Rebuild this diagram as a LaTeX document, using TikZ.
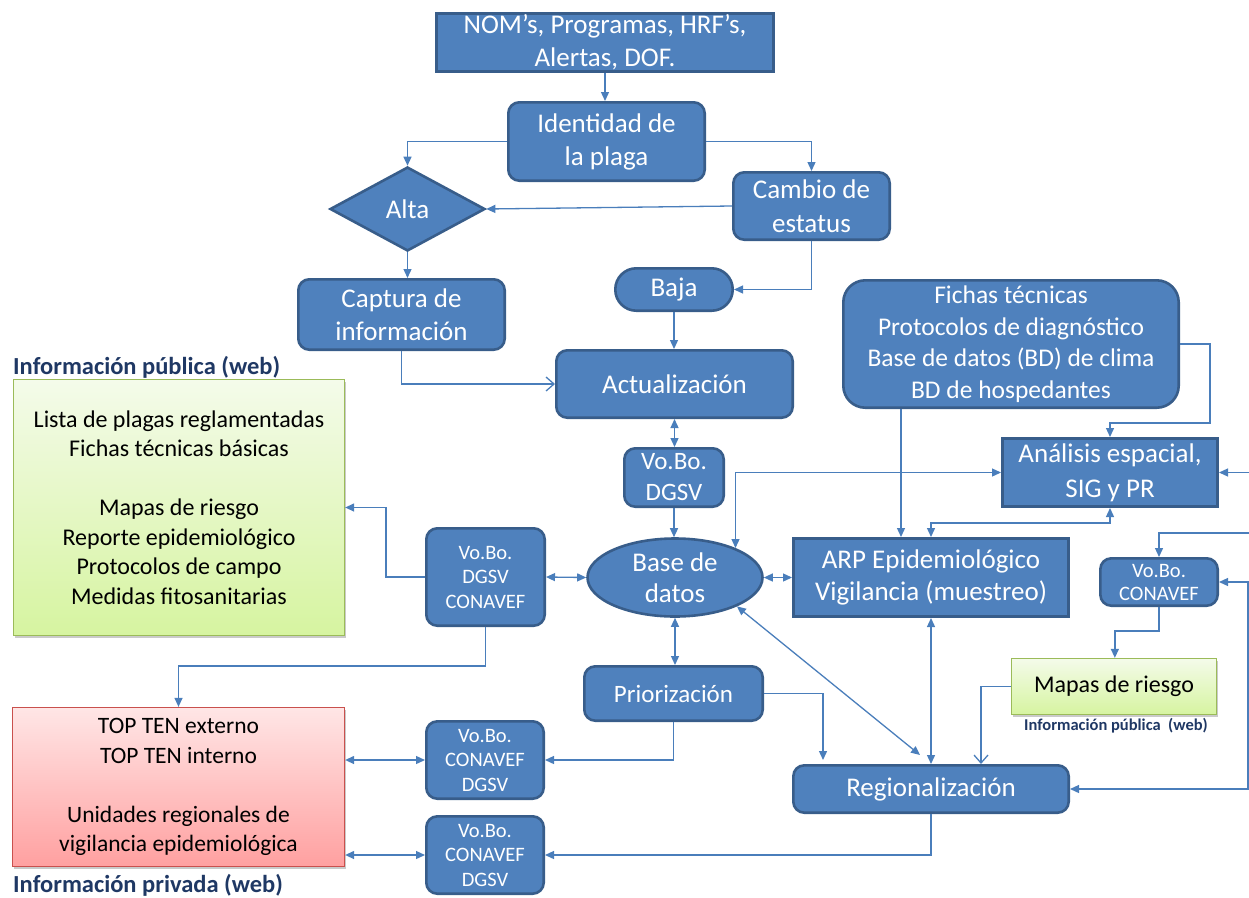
\documentclass[tikz,border=0pt]{standalone}
\usepackage{fontspec}
\setmainfont{Carlito}
\usetikzlibrary{arrows.meta,shapes.geometric,calc,shadows}
\definecolor{bfill}{HTML}{4F81BD}
\definecolor{bdraw}{HTML}{385D8A}
\definecolor{lnc}{HTML}{4A7EBB}
\definecolor{navy}{HTML}{1F3864}
\definecolor{gbor}{HTML}{9BBB59}
\definecolor{gtop}{HTML}{F4FBEA}
\definecolor{gbot}{HTML}{D6F4A0}
\definecolor{rbor}{HTML}{C9504D}
\definecolor{rtop}{HTML}{FFE6E6}
\definecolor{rbot}{HTML}{FFA0A0}
\newcommand\mkbox[7]{\node[#2, minimum width={(#5)-(#3)-2.6}, minimum height={(#6)-(#4)-2.6}] (#1) at ({((#3)+(#5))/2},{((#4)+(#6))/2}) {#7};}
\tikzset{
  bx/.style={draw=bdraw, fill=bfill, line width=2.6pt, text=white, align=center, rounded corners=11pt, inner sep=1pt},
  sq/.style={bx, rounded corners=0pt},
  conn/.style={draw=lnc, line width=1.3pt},
  arr/.style={conn, -{Triangle[length=9pt,width=8pt]}},
  darr/.style={conn, {Triangle[length=9pt,width=8pt]}-{Triangle[length=9pt,width=8pt]}},
  oarr/.style={conn, -{Straight Barb[length=8pt,width=14pt]}},
  shad/.style={drop shadow={shadow xshift=1.5pt, shadow yshift=-2.5pt, opacity=0.35, fill=black!60}},
  gbox/.style={draw=gbor, line width=0.9pt, top color=gtop, bottom color=gbot, text=black, align=center, inner sep=1pt, shad},
  rbox/.style={draw=rbor, line width=0.9pt, top color=rtop, bottom color=rbot, text=black, align=center, inner sep=1pt, shad},
  lbl/.style={text=navy, font=\bfseries\fontsize{24.5}{28}\selectfont, inner sep=0pt},
  slbl/.style={text=navy, font=\bfseries\fontsize{16.5}{19}\selectfont, inner sep=0pt},
  fbig/.style={font=\fontsize{27}{33}\selectfont},
  fvb/.style={font=\fontsize{20.5}{24.5}\selectfont},
}
\begin{document}
\begin{tikzpicture}[x=1pt,y=-1pt]
\useasboundingbox (0,0) rectangle (1249,897);
% blue process boxes
\mkbox{top}{sq,fbig}{435}{12}{775}{73}{NOM’s, Programas, HRF’s,\\Alertas, DOF.}
\mkbox{iden}{bx,fbig}{507}{101}{706}{182}{Identidad de\\la plaga}
\node[bx, diamond, rounded corners=0pt, inner sep=0pt, fbig, minimum width=155, minimum height=84] (alta) at (407.5,209) {Alta};
\mkbox{camb}{bx,font=\fontsize{27}{34}\selectfont}{732}{171}{891}{241}{Cambio de\\estatus}
\mkbox{baja}{bx,fbig,rounded corners=21pt}{614}{267}{734}{312}{Baja}
\mkbox{capt}{bx,fbig}{297}{278}{506}{351}{Captura de\\información}
\mkbox{act}{bx,fbig}{555}{349}{794}{419}{Actualización}
\mkbox{fich}{bx,font=\fontsize{25.5}{31.5}\selectfont,rounded corners=22pt}{842}{279}{1180}{409}{Fichas técnicas\\Protocolos de diagnóstico\\Base de datos (BD) de clima\\BD de hospedantes}
\mkbox{anal}{sq,font=\fontsize{27}{35}\selectfont}{1001}{437}{1219}{508}{Análisis espacial,\\SIG y PR}
\mkbox{vb1}{bx,font=\fontsize{25}{31}\selectfont}{623}{447}{725}{508}{Vo.Bo.\\DGSV}
\node[bx, ellipse, inner sep=-6pt, font=\fontsize{27}{31}\selectfont, minimum width=175, minimum height=78] (base) at (675,577.5) {Base de\\datos};
\mkbox{arp}{sq,font=\fontsize{27}{31.5}\selectfont}{792}{537}{1070}{618}{ARP Epidemiológico\\Vigilancia (muestreo)}
\mkbox{vbl}{bx,fvb}{425}{527}{546}{627}{Vo.Bo.\\DGSV\\CONAVEF}
\mkbox{vbr}{bx,font=\fontsize{20.5}{23}\selectfont}{1099}{557}{1219}{607}{Vo.Bo.\\CONAVEF}
\mkbox{prio}{bx,font=\fontsize{25}{30}\selectfont}{583}{665}{764}{722}{Priorización}
\mkbox{reg}{bx,fbig}{792}{764}{1070}{814}{Regionalización}
\mkbox{vb2}{bx,fvb}{425}{720}{545}{800}{Vo.Bo.\\CONAVEF\\DGSV}
\mkbox{vb3}{bx,fvb}{425}{815}{545}{895}{Vo.Bo.\\CONAVEF\\DGSV}
% information boxes
\mkbox{green}{gbox,font=\fontsize{24}{29.5}\selectfont}{12}{378}{346}{637}{Lista de plagas reglamentadas\\Fichas técnicas básicas\\[29.5pt]Mapas de riesgo\\Reporte epidemiológico\\Protocolos de campo\\Medidas fitosanitarias}
\mkbox{red}{rbox,font=\fontsize{23.5}{29.5}\selectfont}{11}{706}{346}{868}{TOP TEN externo\\TOP TEN interno\\[29.5pt]Unidades regionales de\\vigilancia epidemiológica}
\mkbox{mapas}{gbox,font=\fontsize{24}{29}\selectfont}{1010}{657}{1218}{716}{Mapas de riesgo}
% labels
\node[lbl, anchor=west] (lpub) at (13,367) {Información pública (web)};
\node[lbl, anchor=west] (lpriv) at (13,885) {Información privada (web)};
\node[slbl] (lmap) at (1116,726) {Información pública\ \ (web)};
% auxiliary points
\coordinate (e1) at (1249,472.5);
\coordinate (e2) at (1249,533);
\coordinate (e3) at (1248,582);
\coordinate (f1) at ($(fich.south west)+(59,0)$);
\coordinate (f2) at ($(fich.east)+(30,79)$);
\coordinate (m1) at ($(mapas.north west)+(104,0)$);
\coordinate (r1) at ($(reg.north west)+(189,0)$);
\coordinate (r2) at ($(reg.north west)+(128,-9)$);
\coordinate (r3) at ($(reg.north west)+(31,-4)$);
% connectors
\draw[arr] (top.south) -- (top.south |- iden.north);
\draw[arr] (iden.west) -| (alta.north);
\draw[arr] (iden.east) -| (camb.north);
\draw[arr] (camb.west) -- (alta.east);
\draw[arr] (camb.south) |- (baja.east);
\draw[arr] (alta.south) -- (alta.south |- capt.north);
\draw[oarr] (capt.south) |- (act.west);
\draw[arr] (baja.south) -- (baja.south |- act.north);
\draw[darr] (act.south) -- (act.south |- vb1.north);
\draw[arr] (vb1.south) -- (vb1.south |- base.north);
\draw[arr] (fich.east) -| (f2) -| (anal.north);
\draw[arr] (f1) -- (f1 |- arp.north);
\draw[darr] (anal.south) -- ++(0,15) -| (arp.north);
\draw[darr] (base.26) |- (anal.west);
\draw[darr] (base.east) -- (arp.west);
\draw[arr] (e1) -- (anal.east);
\draw[arr] (e2) -| (vbr.north);
\draw[darr] (vbr.east) -- (e3) |- (reg.east);
\draw[arr] (vbr.south) -- ++(0,24) -| (m1);
\draw[oarr] (mapas.west) -| (r1);
\draw[darr] (arp.south) -- (reg.north);
\draw[darr] (base.-25) -- (r2);
\draw[darr] (base.south) -- (base.south |- prio.north);
\draw[arr] (prio.east) -| (r3);
\draw[arr] (prio.south) |- (vb2.east);
\draw[arr] (reg.south) |- (vb3.east);
\draw[darr] (red.east |- vb2.west) -- (vb2.west);
\draw[darr] (red.east |- vb3.west) -- (vb3.west);
\draw[darr] (vbl.east) -- (base.west);
\draw[arr] (vbl.west) -- ++(-39,0) |- (green.east);
\draw[arr] (vbl.south) -- ++(0,39) -| (red.north);
\end{tikzpicture}
\end{document}
